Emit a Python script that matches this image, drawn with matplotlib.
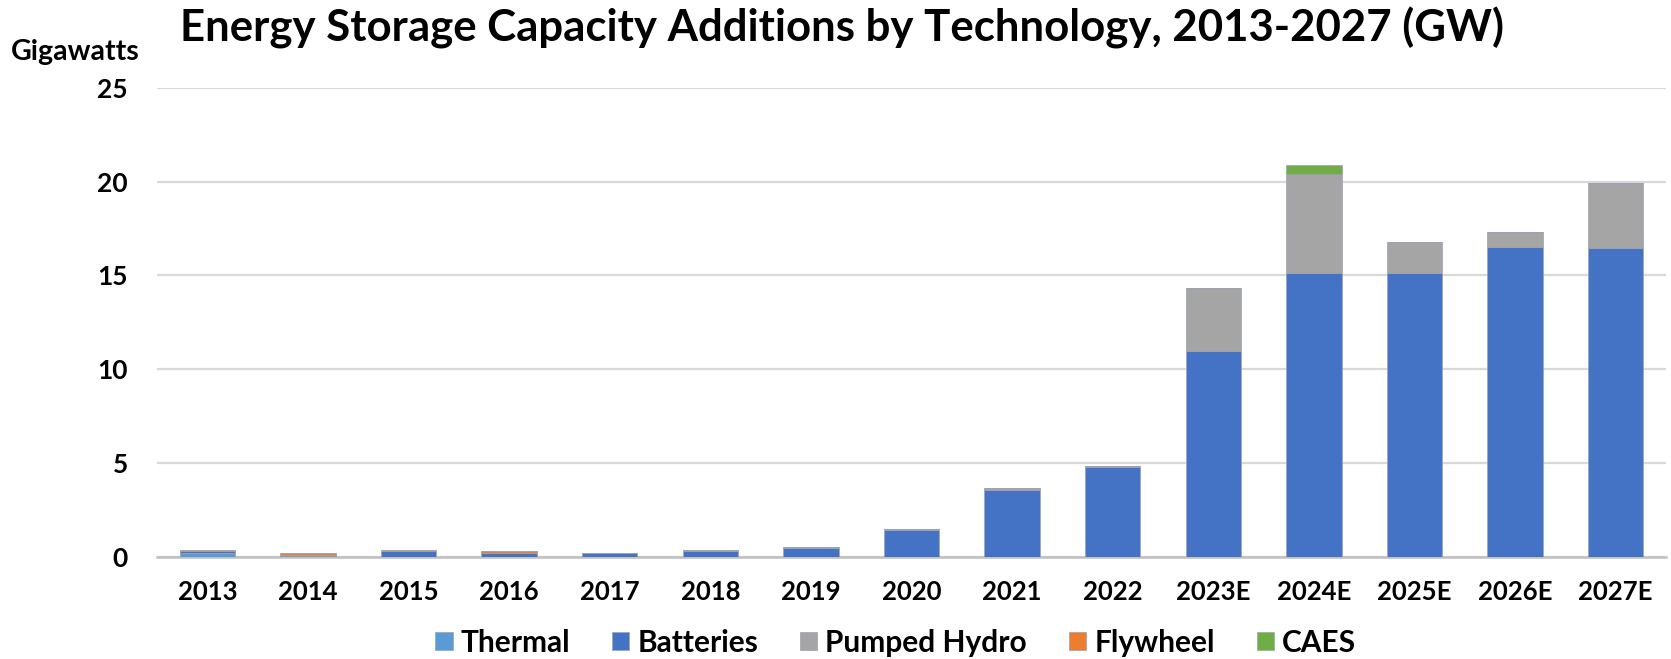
import matplotlib
matplotlib.use("Agg")
import matplotlib.pyplot as plt
import numpy as np

categories = ["2013", "2014", "2015", "2016", "2017", "2018", "2019", "2020",
              "2021", "2022", "2023E", "2024E", "2025E", "2026E", "2027E"]
thermal   = [0.18, 0.03, 0.00, 0.00, 0.00, 0.00, 0.00, 0.00, 0.00, 0.00, 0.00, 0.00, 0.00, 0.00, 0.00]
batteries = [0.11, 0.04, 0.30, 0.21, 0.18, 0.30, 0.45, 1.42, 3.58, 4.77, 10.95, 15.10, 15.10, 16.53, 16.47]
hydro     = [0.00, 0.02, 0.00, 0.00, 0.03, 0.04, 0.05, 0.07, 0.07, 0.05, 3.35, 5.28, 1.70, 0.76, 3.46]
flywheel  = [0.06, 0.08, 0.07, 0.07, 0.00, 0.00, 0.00, 0.00, 0.00, 0.00, 0.00, 0.00, 0.00, 0.00, 0.00]
caes      = [0.00, 0.00, 0.00, 0.00, 0.00, 0.00, 0.00, 0.00, 0.00, 0.00, 0.00, 0.48, 0.00, 0.00, 0.00]

series_names = ["Thermal", "Batteries", "Pumped Hydro", "Flywheel", "CAES"]
series_vals = [thermal, batteries, hydro, flywheel, caes]
colors = ["#5B9BD5", "#4472C4", "#A5A5A5", "#ED7D31", "#70AD47"]
y_ticks = [0, 5, 10, 15, 20, 25]

plt.rcParams['font.family'] = ['Lato', 'DejaVu Sans']
plt.rcParams['font.weight'] = 'bold'

fig = plt.figure(figsize=(16.71, 6.59), dpi=100)
ax = fig.add_axes([0.094, 0.1553, 0.903, 0.7116])

x = np.arange(len(categories))
bottom = np.zeros(len(categories))
handles = []
for name, vals, c in zip(series_names, series_vals, colors):
    v = np.array(vals)
    b = ax.bar(x, v, width=0.55, bottom=bottom, color=c, label=name,
               edgecolor="#9AA3B2", linewidth=0.5, zorder=3)
    handles.append(b)
    bottom += v

ax.set_xlim(-0.5, len(categories) - 0.5)
ax.set_ylim(0, 25)
ax.set_yticks(y_ticks)
ax.set_yticklabels([str(t) for t in y_ticks], fontsize=19, fontweight='bold')
ax.set_xticks(x)
ax.set_xticklabels(categories, fontsize=18.5, fontweight='bold')
ax.tick_params(axis='both', length=0)
ax.tick_params(axis='y', pad=21)
ax.tick_params(axis='x', pad=17)
ax.grid(axis='y', color='#D9D9D9', linewidth=1.6, zorder=0)
for s in ['top', 'right', 'left']:
    ax.spines[s].set_visible(False)
ax.spines['bottom'].set_color('#BFBFBF')
ax.spines['bottom'].set_linewidth(1.8)

fig.text(0.504, 0.958, "Energy Storage Capacity Additions by Technology, 2013-2027 (GW)",
         ha='center', va='center', fontsize=31.5, fontweight='bold')
fig.text(0.0065, 0.921, "Gigawatts", ha='left', va='center', fontsize=20.5, fontweight='bold')

leg = fig.legend(handles, series_names, loc='center', bbox_to_anchor=(0.536, 0.025),
                 ncol=5, frameon=False, fontsize=21.5, handlelength=0.58, handleheight=0.58,
                 handletextpad=0.27, columnspacing=1.4)
for t in leg.get_texts():
    t.set_fontweight('bold')

fig.savefig("out.png", dpi=100)
